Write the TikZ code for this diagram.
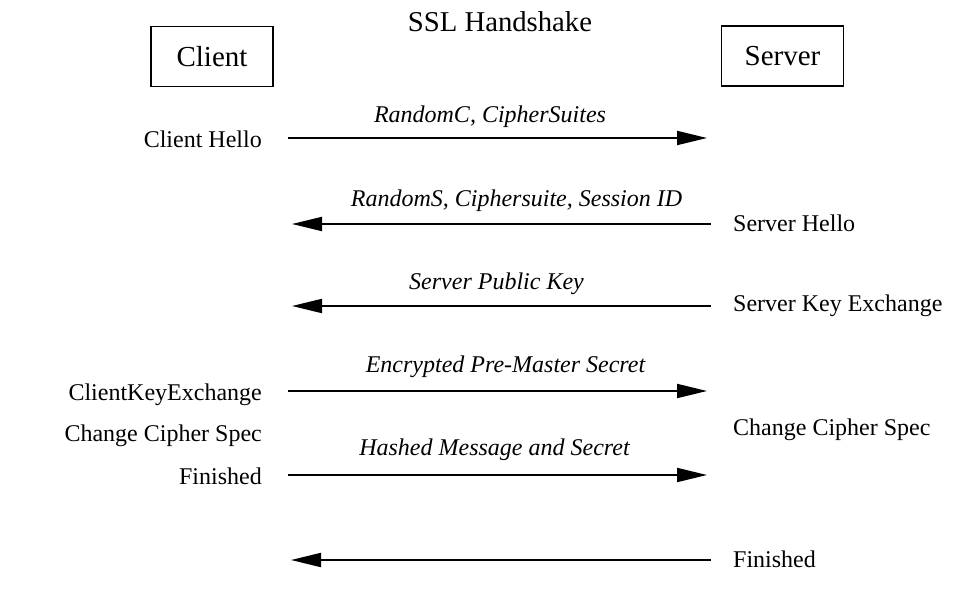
\documentclass[tikz,border=0pt]{standalone}
\usepackage{fontspec}
\setmainfont{Liberation Serif}
\usetikzlibrary{arrows.meta}
\begin{document}
\begin{tikzpicture}[x=1bp,y=-1bp,
  msg/.style={line width=2bp, -{Triangle[length=30bp,width=14bp]}},
  party/.style={draw, line width=1.8bp, minimum width=122bp, minimum height=60bp,
    inner sep=0pt, font=\fontsize{29bp}{34bp}\selectfont},
  side/.style={inner sep=0pt, font=\fontsize{24bp}{28bp}\selectfont},
  payload/.style={inner sep=0pt, anchor=base, font=\fontsize{24bp}{28bp}\selectfont\itshape}]
\useasboundingbox (0,0) rectangle (980,589);

% title and the two parties
\node[inner sep=0pt, anchor=base, font=\fontsize{28.7bp}{34bp}\selectfont] (title) at (500,32) {SSL Handshake};
\node[party] (client) at (212,56.5) {Client};
\node[party] (server) at (782.5,56) {Server};

% message names on the client side
\node[side, anchor=base east] (chello) at (262,148) {Client Hello};
\node[side, anchor=base east] (ckex)   at (262,400) {ClientKeyExchange};
\node[side, anchor=base east] (cccs)   at (262,441) {Change Cipher Spec};
\node[side, anchor=base east] (cfin)   at (262,484) {Finished};

% message names on the server side
\node[side, anchor=base west] (shello) at (733,232) {Server Hello};
\node[side, anchor=base west] (skex)   at (733,311) {Server Key Exchange};
\node[side, anchor=base west] (sccs)   at (733,435) {Change Cipher Spec};
\node[side, anchor=base west] (sfin)   at (733,567) {Finished};

% ends of the message arrows
\coordinate (c1) at (288,138); \coordinate (s1) at (707,138);
\coordinate (s2) at (711,224); \coordinate (c2) at (292,224);
\coordinate (s3) at (711,306); \coordinate (c3) at (292,306);
\coordinate (c4) at (288,391); \coordinate (s4) at (707,391);
\coordinate (c5) at (288,475); \coordinate (s5) at (707,475);
\coordinate (s6) at (711,560); \coordinate (c6) at (291,560);

\draw[msg] (c1) -- (s1);
\draw[msg] (s2) -- (c2);
\draw[msg] (s3) -- (c3);
\draw[msg] (c4) -- (s4);
\draw[msg] (c5) -- (s5);
\draw[msg] (s6) -- (c6);

% contents carried by the messages
\node[payload] (p1) at (490,123)   {RandomC, CipherSuites};
\node[payload] (p2) at (516.5,207) {RandomS, Ciphersuite, Session ID};
\node[payload] (p3) at (496.5,290) {Server Public Key};
\node[payload] (p4) at (505.5,372) {Encrypted Pre-Master Secret};
\node[payload] (p5) at (494.5,455) {Hashed Message and Secret};
\end{tikzpicture}
\end{document}
